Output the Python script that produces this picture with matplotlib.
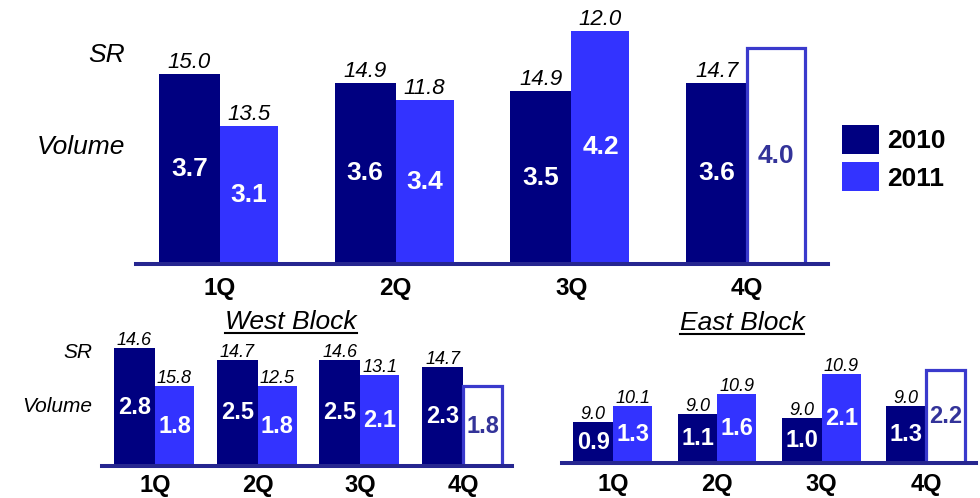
import matplotlib
matplotlib.use("Agg")
import matplotlib.pyplot as plt
from matplotlib.lines import Line2D

plt.rcParams['font.family'] = ['Liberation Sans', 'DejaVu Sans']

# --- data ---
quarters = ['1Q', '2Q', '3Q', '4Q']

total_vol_2010 = [3.7, 3.6, 3.5, 3.6]
total_vol_2011 = [3.1, 3.4, 4.2, 4.0]
total_sr_2010 = [15.0, 14.9, 14.9, 14.7]
total_sr_2011 = [13.5, 11.8, 12.0, None]

west_vol_2010 = [2.8, 2.5, 2.5, 2.3]
west_vol_2011 = [1.8, 1.8, 2.1, 1.8]
west_sr_2010 = [14.6, 14.7, 14.6, 14.7]
west_sr_2011 = [15.8, 12.5, 13.1, None]

east_vol_2010 = [0.9, 1.1, 1.0, 1.3]
east_vol_2011 = [1.3, 1.6, 2.1, 2.2]
east_sr_2010 = [9.0, 9.0, 9.0, 9.0]
east_sr_2011 = [10.1, 10.9, 10.9, None]

NAVY = '#000080'
BLUE = '#3333ff'
OUTLINE = '#3a3acc'
OPEN_TXT = '#333399'
BASE = '#262690'

W, H = 980, 498
fig = plt.figure(figsize=(W / 100, H / 100), dpi=100)


def px_axes(left, right, top, bottom):
    return fig.add_axes([left / W, 1 - bottom / H, (right - left) / W, (bottom - top) / H])


def draw_panel(ax, vol10, vol11, sr10, sr11, base, xlim, ylim_top,
               w10, w11, sr_size, vol_size, cat_size, sr_pad, cat_pad):
    x = range(len(quarters))
    ax.set_xlim(*xlim)
    ax.set_ylim(base, ylim_top)

    # last 2011 quarter is a forecast: open box
    n = len(quarters)
    fc11 = [BLUE] * (n - 1) + ['white']
    ec11 = [BLUE] * (n - 1) + [OUTLINE]
    lw11 = [0] * (n - 1) + [2.3]

    # bars stand on the panel baseline, not on zero
    b10 = ax.bar([i - w10 / 2 for i in x], [v - base for v in vol10],
                 bottom=base, width=w10, color=NAVY, linewidth=0, label='2010')
    b11 = ax.bar([i + w11 / 2 for i in x], [v - base for v in vol11],
                 bottom=base, width=w11, color=fc11, edgecolor=ec11,
                 linewidth=lw11, label='2011')

    for i in x:
        for xc, v, sr, col in ((i - w10 / 2, vol10[i], sr10[i], 'white'),
                               (i + w11 / 2, vol11[i], sr11[i],
                                OPEN_TXT if i == n - 1 else 'white')):
            ax.text(xc, (base + v) / 2, f'{v:.1f}', ha='center', va='center',
                    color=col, fontsize=vol_size, fontweight='bold')
            if sr is not None:
                ax.annotate(f'{sr:.1f}', xy=(xc, v), xytext=(0, sr_pad),
                            textcoords='offset points', ha='center',
                            va='baseline', fontsize=sr_size, style='italic')

    ax.axhline(base, color=BASE, lw=2.9, clip_on=False, zorder=5)
    ax.set_xticks(list(x), quarters, fontsize=cat_size, fontweight='bold')
    ax.tick_params(axis='x', length=0, pad=cat_pad)
    ax.set_yticks([])
    for s in ax.spines.values():
        s.set_visible(False)
    ax.patch.set_alpha(0)
    return b10, b11


# main chart
ax_top = px_axes(136, 828, 0, 264)
h10, h11 = draw_panel(ax_top, total_vol_2010, total_vol_2011, total_sr_2010,
                      total_sr_2011, 1.5, (-0.478, 3.460), 1.5 + 264 / 86.4,
                      0.347, 0.33, 16, 19, 17.5, 4.3, 9.5)

# West Block
ax_w = px_axes(102, 512, 300, 466)
draw_panel(ax_w, west_vol_2010, west_vol_2011, west_sr_2010, west_sr_2011,
           -0.3, (-0.516, 3.476), -0.3 + 166 / 38,
           0.40, 0.38, 13, 17, 17, 2.2, 5.5)

# East Block
ax_e = px_axes(562, 976, 300, 463)
draw_panel(ax_e, east_vol_2010, east_vol_2011, east_sr_2010, east_sr_2011,
           -0.12, (-0.489, 3.480), -0.12 + 163 / 40,
           0.38, 0.375, 13, 17, 17, 2.2, 7)

# row labels
for txt, x, y, fs in (('SR', 125, 55, 19), ('Volume', 125, 147, 19),
                      ('SR', 92, 352, 15), ('Volume', 92, 407, 15)):
    fig.text(x / W, 1 - y / H, txt, ha='right', va='center',
             fontsize=fs, style='italic')

# block titles, underlined
titles = []
for txt, x, y in (('West Block', 291, 322), ('East Block', 742, 323)):
    titles.append(fig.text(x / W, 1 - y / H, txt, ha='center', va='center',
                           fontsize=19, style='italic'))
fig.canvas.draw()
renderer = fig.canvas.get_renderer()
for t in titles:
    bb = t.get_window_extent(renderer)
    yline = (bb.y0 + 1) / H
    fig.add_artist(Line2D([bb.x0 / W, bb.x1 / W], [yline, yline],
                          color='black', lw=1.5))

fig.legend(handles=[h10, h11], labels=['2010', '2011'], loc='upper left',
           bbox_to_anchor=(842 / W, 1 - 125 / H), frameon=False,
           prop={'size': 19, 'weight': 'bold'}, handlelength=1.4,
           handleheight=1.3, labelspacing=0.33, handletextpad=0.3,
           borderpad=0, borderaxespad=0)

fig.savefig('out.png', dpi=100)
